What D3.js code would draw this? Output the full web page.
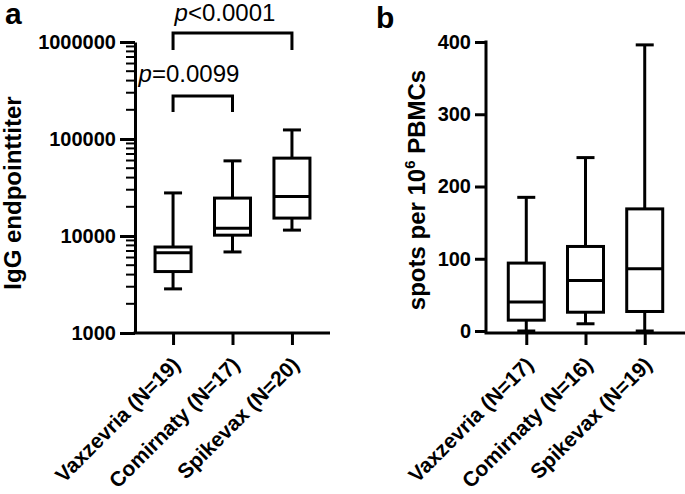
<!DOCTYPE html>
<html><head><meta charset="utf-8">
<script src="https://cdn.jsdelivr.net/npm/d3@7"></script>
<style>
body{margin:0;background:#fff;}
svg{display:block;}
svg text{font-family:"Liberation Sans",Arial,sans-serif;}
</style></head>
<body><svg id="c" width="685" height="494"></svg>
<script>
// ---- data ----
const categoriesA = ["Vaxzevria (N=19)", "Comirnaty (N=17)", "Spikevax (N=20)"];
const iggMin    = [2850, 6850, 11500];
const iggQ1     = [4300, 10200, 15300];
const iggMedian = [6700, 12000, 25500];
const iggQ3     = [7700, 24600, 63500];
const iggMax    = [27800, 59500, 124000];
const iggTicks  = [1000, 10000, 100000, 1000000];
const pLabels   = ["p=0.0099", "p<0.0001"];

const categoriesB = ["Vaxzevria (N=17)", "Comirnaty (N=16)", "Spikevax (N=19)"];
const spotMin    = [0, 10, 0];
const spotQ1     = [15, 26, 27];
const spotMedian = [40, 70, 86];
const spotQ3     = [94, 117, 169];
const spotMax    = [185, 240, 396];
const spotTicks  = [0, 100, 200, 300, 400];

const svg = d3.select("#c");
const SW = 3;

function drawBoxes(g, x, y, cats, mn, q1, md, q3, mx) {
  const bw = 36, cw = 18;
  cats.forEach((c, i) => {
    const cx = x(c);
    const gg = g.append("g").attr("fill", "none").attr("stroke", "#000").attr("stroke-width", SW);
    gg.append("line").attr("x1", cx).attr("x2", cx).attr("y1", y(mx[i])).attr("y2", y(q3[i]));
    gg.append("line").attr("x1", cx).attr("x2", cx).attr("y1", y(q1[i])).attr("y2", y(mn[i]));
    gg.append("line").attr("x1", cx - cw/2).attr("x2", cx + cw/2).attr("y1", y(mx[i])).attr("y2", y(mx[i]));
    gg.append("line").attr("x1", cx - cw/2).attr("x2", cx + cw/2).attr("y1", y(mn[i])).attr("y2", y(mn[i]));
    gg.append("rect").attr("x", cx - bw/2).attr("width", bw)
      .attr("y", y(q3[i])).attr("height", y(q1[i]) - y(q3[i])).attr("fill", "#fff");
    gg.append("line").attr("x1", cx - bw/2).attr("x2", cx + bw/2).attr("y1", y(md[i])).attr("y2", y(md[i]));
  });
}

function drawXAxis(g, x, cats, x0, x1, y0) {
  g.append("line").attr("x1", x0 - 1.5).attr("x2", x1).attr("y1", y0).attr("y2", y0)
    .attr("stroke", "#000").attr("stroke-width", SW);
  const ax = g.append("g").attr("transform", `translate(0,${y0})`)
    .call(d3.axisBottom(x).tickSize(12).tickSizeOuter(0))
    .attr("font-family", null).attr("font-size", null);
  ax.select(".domain").remove();
  ax.selectAll(".tick line").attr("stroke", "#000").attr("stroke-width", SW);
  ax.selectAll(".tick text")
    .attr("font-size", 21).attr("font-weight", "bold").attr("fill", "#000")
    .attr("text-anchor", "end")
    .attr("dy", null).attr("y", null)
    .attr("transform", "translate(8,33) rotate(-45)");
}

// ===== Panel a =====
const ga = svg.append("g");
const xA = d3.scalePoint().domain(categoriesA).range([135, 330]).padding(0.64);
const yA = d3.scaleLog().domain([1000, 1000000]).range([333, 42]);

// y axis
const yAx = ga.append("g").attr("transform", "translate(135,0)")
  .call(d3.axisLeft(yA).tickValues(iggTicks).tickFormat(d3.format("d")).tickSize(15).tickSizeOuter(0))
  .attr("font-family", null).attr("font-size", null);
yAx.select(".domain").attr("stroke-width", SW);
yAx.selectAll(".tick line").attr("stroke-width", SW);
yAx.selectAll(".tick text").attr("font-size", 20).attr("font-weight", "bold").attr("fill", "#000").attr("x", -19);
// minor ticks
const minor = [];
for (let d = 1000; d < 1000000; d *= 10) for (let k = 2; k <= 9; k++) minor.push(d * k);
ga.append("g").selectAll("line").data(minor).join("line")
  .attr("x1", 126).attr("x2", 135).attr("y1", d => yA(d)).attr("y2", d => yA(d))
  .attr("stroke", "#000").attr("stroke-width", 2);

drawXAxis(ga, xA, categoriesA, 135, 330, 333);
drawBoxes(ga, xA, yA, categoriesA, iggMin, iggQ1, iggMedian, iggQ3, iggMax);

// brackets
function bracket(g, xa, xb, yTop, yBot, label, tx, ty) {
  g.append("path").attr("d", `M${xa},${yBot}V${yTop}H${xb}V${yBot}`)
    .attr("fill", "none").attr("stroke", "#000").attr("stroke-width", SW);
  const t = g.append("text").attr("x", tx).attr("y", ty).attr("font-size", 24).attr("text-anchor", "middle").attr("fill", "#000");
  t.append("tspan").attr("font-style", "italic").text("p");
  t.append("tspan").text(label.slice(1));
}
bracket(ga, xA(categoriesA[0]), xA(categoriesA[1]), yA(1000000) + 54, yA(1000000) + 70, pLabels[0], 189, 82);
bracket(ga, xA(categoriesA[0]), xA(categoriesA[2]), yA(1000000) - 9, yA(1000000) + 8, pLabels[1], 225, 21);

ga.append("text").attr("transform", "translate(21,193) rotate(-90)")
  .attr("text-anchor", "middle").attr("font-size", 24).attr("font-weight", "bold").attr("fill", "#000")
  .text("IgG endpointtiter");
ga.append("text").attr("x", 5).attr("y", 24).attr("font-size", 30).attr("font-weight", "bold").attr("fill", "#000").text("a");

// ===== Panel b =====
const gb = svg.append("g");
const xB = d3.scalePoint().domain(categoriesB).range([486, 685]).padding(0.68);
const yB = d3.scaleLinear().domain([0, 400]).range([331, 42]);

const yBx = gb.append("g").attr("transform", "translate(486,0)")
  .call(d3.axisLeft(yB).tickValues(spotTicks).tickSize(11).tickSizeOuter(0))
  .attr("font-family", null).attr("font-size", null);
yBx.select(".domain").attr("stroke-width", SW).attr("d", "M0,40.5V333");
yBx.selectAll(".tick line").attr("stroke-width", SW);
yBx.selectAll(".tick text").attr("font-size", 20).attr("font-weight", "bold").attr("fill", "#000").attr("x", -15);

drawXAxis(gb, xB, categoriesB, 486, 685, 333);
drawBoxes(gb, xB, yB, categoriesB, spotMin, spotQ1, spotMedian, spotQ3, spotMax);

const tb = gb.append("text").attr("transform", "translate(425,190) rotate(-90)")
  .attr("text-anchor", "middle").attr("font-size", 24).attr("font-weight", "bold").attr("fill", "#000");
tb.append("tspan").text("spots per 10");
tb.append("tspan").attr("font-size", 15).attr("dy", -10).text("6");
tb.append("tspan").attr("dy", 10).text(" PBMCs");
gb.append("text").attr("x", 376).attr("y", 28).attr("font-size", 30).attr("font-weight", "bold").attr("fill", "#000").text("b");
</script></body></html>
